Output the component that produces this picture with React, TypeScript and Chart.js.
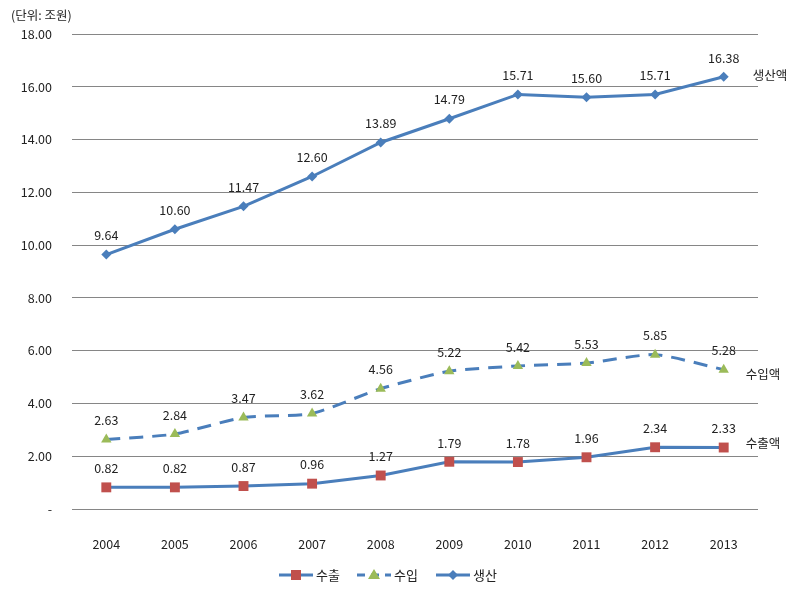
import React, { useEffect, useRef } from "react";
import { Chart, registerables } from "chart.js";

Chart.register(...registerables);

const years = ["2004", "2005", "2006", "2007", "2008", "2009", "2010", "2011", "2012", "2013"];
const exportVals = [0.82, 0.82, 0.87, 0.96, 1.27, 1.79, 1.78, 1.96, 2.34, 2.33];
const importVals = [2.63, 2.84, 3.47, 3.62, 4.56, 5.22, 5.42, 5.53, 5.85, 5.28];
const prodVals = [9.64, 10.6, 11.47, 12.6, 13.89, 14.79, 15.71, 15.6, 15.71, 16.38];
const seriesNames = ["수출", "수입", "생산"];
const endLabels = ["수출액", "수입액", "생산액"];
const unitLabel = "(단위: 조원)";

const FONT = '"Noto Sans CJK KR", "Noto Sans", sans-serif';
const BLUE = "#4A7EBB";
const RED = "#C0504D";
const GREEN = "#9BBB59";

const endOffsets = [
  { dx: 22, dy: -4 },
  { dx: 22, dy: 5 },
  { dx: 29, dy: -2 },
];

const labelPlugin = {
  id: "customLabels",
  afterDatasetsDraw(chart: any) {
    const ctx = chart.ctx;
    ctx.save();
    ctx.font = `12.5px ${FONT}`;
    ctx.fillStyle = "#222";
    ctx.textBaseline = "middle";
    chart.data.datasets.forEach((ds: any, di: number) => {
      const meta = chart.getDatasetMeta(di);
      ctx.textAlign = "center";
      meta.data.forEach((pt: any, i: number) => {
        const v = ds.data[i] as number;
        ctx.fillText(v.toFixed(2), pt.x, pt.y - 19);
      });
      const last = meta.data[meta.data.length - 1];
      ctx.textAlign = "left";
      ctx.fillText(endLabels[di], last.x + endOffsets[di].dx, last.y + endOffsets[di].dy);
    });
    // unit label
    ctx.textAlign = "left";
    ctx.fillText(unitLabel, 11, 15);
    // legend
    const ly = 575;
    const items = [
      { x: 279, text: seriesNames[0], color: RED, style: "rect", dash: [] as number[] },
      { x: 357, text: seriesNames[1], color: GREEN, style: "triangle", dash: [8, 6] },
      { x: 436, text: seriesNames[2], color: BLUE, style: "rectRot", dash: [] as number[] },
    ];
    items.forEach((it) => {
      ctx.strokeStyle = BLUE;
      ctx.lineWidth = 3;
      ctx.setLineDash(it.dash);
      ctx.beginPath();
      ctx.moveTo(it.x, ly);
      ctx.lineTo(it.x + 34, ly);
      ctx.stroke();
      ctx.setLineDash([]);
      ctx.fillStyle = it.color;
      const cx = it.x + 17;
      ctx.beginPath();
      if (it.style === "rect") {
        ctx.rect(cx - 5, ly - 5, 10, 10);
      } else if (it.style === "triangle") {
        ctx.moveTo(cx, ly - 6);
        ctx.lineTo(cx + 6, ly + 4);
        ctx.lineTo(cx - 6, ly + 4);
        ctx.closePath();
      } else {
        ctx.moveTo(cx, ly - 5);
        ctx.lineTo(cx + 5, ly);
        ctx.lineTo(cx, ly + 5);
        ctx.lineTo(cx - 5, ly);
        ctx.closePath();
      }
      ctx.fill();
      ctx.fillStyle = "#222";
      ctx.textAlign = "left";
      ctx.font = `13px ${FONT}`;
      ctx.fillText(it.text, it.x + 37, ly);
    });
    ctx.restore();
  },
};

export default function App() {
  const ref = useRef<HTMLCanvasElement | null>(null);
  useEffect(() => {
    document.body.style.margin = "0";
    const canvas = ref.current!;
    const chart = new Chart(canvas, {
      type: "line",
      data: {
        labels: years,
        datasets: [
          {
            label: seriesNames[0],
            data: exportVals,
            borderColor: BLUE,
            borderWidth: 3,
            pointStyle: "rect",
            pointRadius: 7,
            pointBackgroundColor: RED,
            pointBorderColor: RED,
            pointBorderWidth: 0,
            tension: 0,
          },
          {
            label: seriesNames[1],
            data: importVals,
            borderColor: BLUE,
            borderWidth: 3,
            borderDash: [14, 9],
            pointStyle: "triangle",
            pointRadius: 6,
            pointBackgroundColor: GREEN,
            pointBorderColor: GREEN,
            pointBorderWidth: 0,
            tension: 0.2,
          },
          {
            label: seriesNames[2],
            data: prodVals,
            borderColor: BLUE,
            borderWidth: 3,
            pointStyle: "rectRot",
            pointRadius: 5,
            pointBackgroundColor: BLUE,
            pointBorderColor: BLUE,
            pointBorderWidth: 0,
            tension: 0,
          },
        ],
      },
      options: {
        responsive: false,
        animation: false,
        layout: { padding: { left: 0, right: 45, top: 34, bottom: 0 } },
        plugins: { legend: { display: false }, tooltip: { enabled: false } },
        scales: {
          x: {
            offset: true,
            grid: { display: false },
            border: { display: false },
            ticks: { font: { family: FONT, size: 12.5 }, color: "#222", padding: 20 },
            afterFit: (s: any) => {
              s.height = 83;
            },
          },
          y: {
            min: 0,
            max: 18,
            grid: { color: "#868686", lineWidth: 1, drawTicks: false },
            border: { display: false },
            ticks: {
              stepSize: 2,
              font: { family: FONT, size: 12.5 },
              color: "#222",
              padding: 20,
              callback: (v: any) => (Number(v) === 0 ? "-" : Number(v).toFixed(2)),
            },
            afterFit: (s: any) => {
              s.width = 72;
            },
          },
        },
      },
      plugins: [labelPlugin],
    });
    return () => chart.destroy();
  }, []);
  return <canvas ref={ref} width={803} height={592} style={{ display: "block" }} />;
}
